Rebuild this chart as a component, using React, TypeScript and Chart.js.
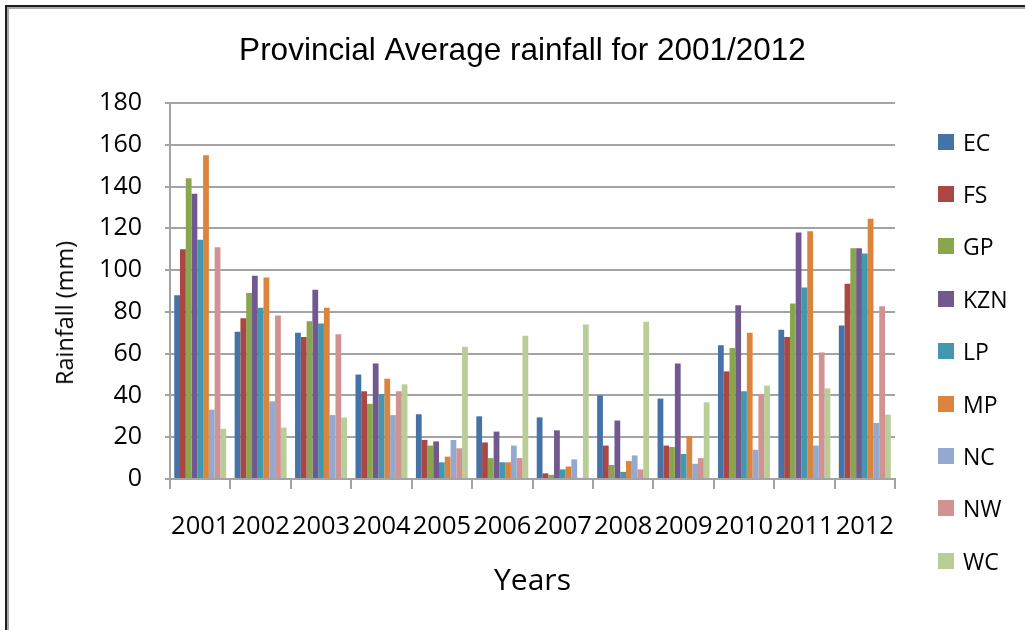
import React, { useEffect, useRef } from "react";
import { Chart, registerables } from "chart.js";

Chart.register(...registerables);

const years = ["2001", "2002", "2003", "2004", "2005", "2006", "2007", "2008", "2009", "2010", "2011", "2012"];
const seriesNames = ["EC", "FS", "GP", "KZN", "LP", "MP", "NC", "NW", "WC"];
const seriesColors = ["#4572A7", "#AA4643", "#89A54E", "#71588F", "#4198AF", "#DB843D", "#93A9CF", "#D19392", "#B9CD96"];

const EC = [88, 70.5, 70, 50, 31, 30, 29.5, 40, 38.5, 64, 71.5, 73.5];
const FS = [110, 77, 68, 42, 18.7, 17.5, 2.7, 16, 16, 51.5, 68, 93.5];
const GP = [144, 89, 75.5, 36, 16, 10, 2, 6.7, 15.3, 62.7, 84, 110.5];
const KZN = [136.5, 97.3, 90.6, 55.3, 18, 22.7, 23.3, 28, 55.3, 83.2, 118, 110.5];
const LP = [114.5, 82, 74.5, 40.7, 8, 8, 4.6, 3.4, 12, 42, 91.7, 108];
const MP = [155, 96.5, 82, 48, 10.7, 8, 6, 8.6, 20.6, 70, 118.6, 124.6];
const NC = [33.2, 37.2, 30.6, 30.6, 18.7, 16, 9.4, 11.3, 7.3, 14, 16, 26.8];
const NW = [111, 78.3, 69.3, 42, 14.7, 10, 0.6, 4.6, 10, 40.7, 60.6, 82.7];
const WC = [24, 24.6, 29.4, 45.3, 63.3, 68.6, 74, 75.3, 36.7, 44.7, 43.4, 30.8];

const seriesValues = [EC, FS, GP, KZN, LP, MP, NC, NW, WC];

const yTicks = [0, 20, 40, 60, 80, 100, 120, 140, 160, 180];

const GRID = "#a3a3a3";
const FONT = '"Open Sans", "DejaVu Sans", sans-serif';

export default function App() {
  const ref = useRef<HTMLCanvasElement>(null);

  useEffect(() => {
    let chart: Chart | null = null;
    let cancelled = false;
    const make = () => {
      if (cancelled || !ref.current) return;
      chart = new Chart(ref.current, {
        type: "bar",
        data: {
          labels: years,
          datasets: seriesNames.map((name, i) => ({
            label: name,
            data: seriesValues[i],
            backgroundColor: seriesColors[i],
            borderWidth: 0,
            barPercentage: 1,
            categoryPercentage: 0.86,
            yAxisID: "y",
          })),
        },
        options: {
          responsive: false,
          animation: false,
          layout: { padding: { left: 20, right: 0, top: 0, bottom: 0 } },
          plugins: {
            legend: { display: false },
            tooltip: { enabled: false },
            title: {
              display: true,
              text: "Provincial Average rainfall for 2001/2012",
              color: "#000",
              font: { family: '"Liberation Sans", Arial, sans-serif', size: 31.5, weight: "normal", lineHeight: 1.2 },
              padding: { top: 32, bottom: 33.2 },
            },
          },
          scales: {
            x: {
              grid: {
                display: true,
                drawOnChartArea: false,
                drawTicks: true,
                tickLength: 10,
                color: GRID,
                lineWidth: 2,
                offset: true,
              },
              border: { display: true, color: GRID, width: 2 },
              ticks: {
                color: "#000",
                font: { family: FONT, size: 25.5 },
                padding: 22,
                maxRotation: 0,
                minRotation: 0,
                autoSkip: false,
              },
              title: {
                display: true,
                text: "Years",
                color: "#000",
                font: { family: FONT, size: 30 },
                padding: { top: 31, bottom: 31 },
              },
              afterFit: (s: any) => {
                s.height = 151;
              },
            },
            y: {
              position: "left",
              min: 0,
              max: 180,
              afterBuildTicks: (s: any) => {
                s.ticks = yTicks.map((v) => ({ value: v }));
              },
              ticks: {
                color: "#000",
                font: { family: FONT, size: 25 },
                padding: 23,
              },
              grid: { color: GRID, lineWidth: 2, tickLength: 5, drawTicks: true },
              border: { display: true, color: GRID, width: 2 },
              title: { display: false },
              afterFit: (s: any) => {
                s.width = 150;
              },
            },
            yR: {
              position: "right",
              display: true,
              grid: { display: false },
              border: { display: false },
              ticks: { display: false },
              afterFit: (s: any) => {
                s.width = 130;
              },
            },
          },
        } as any,
      });
    };
    const fontsReady = (document as any).fonts
      ? Promise.all([
          (document as any).fonts.load('25px "Open Sans"'),
          (document as any).fonts.load('31px "Liberation Sans"'),
        ]).catch(() => null)
      : Promise.resolve(null);
    fontsReady.then(make);
    return () => {
      cancelled = true;
      if (chart) chart.destroy();
    };
  }, []);

  return (
    <div
      style={{
        position: "fixed",
        left: 0,
        top: 0,
        width: 1025,
        height: 630,
        overflow: "hidden",
        background: "#fff",
      }}
    >
      <div
        style={{
          position: "absolute",
          left: 5,
          top: 5,
          width: 1060,
          height: 680,
          border: "2px solid #1e1e1e",
          boxShadow: "inset 0 0 0 2px #a8a8a8",
        }}
      />
      <canvas ref={ref} width={1025} height={630} style={{ position: "absolute", left: 0, top: 0 }} />
      <div
        style={{
          position: "absolute",
          left: 64,
          top: 313,
          transform: "translate(-50%, -50%) rotate(-90deg)",
          fontFamily: FONT,
          fontSize: 23.5,
          lineHeight: "28px",
          color: "#000",
          whiteSpace: "nowrap",
        }}
      >
        Rainfall (mm)
      </div>
      {seriesNames.map((name, i) => (
        <div
          key={name}
          style={{
            position: "absolute",
            left: 938,
            top: 141.5 + i * 52.4 - 15,
            height: 30,
            display: "flex",
            alignItems: "center",
            fontFamily: FONT,
            fontSize: 23,
            color: "#000",
            whiteSpace: "nowrap",
          }}
        >
          <span
            style={{
              display: "inline-block",
              width: 16,
              height: 16,
              background: seriesColors[i],
              marginRight: 9,
            }}
          />
          <span>{name}</span>
        </div>
      ))}
    </div>
  );
}
